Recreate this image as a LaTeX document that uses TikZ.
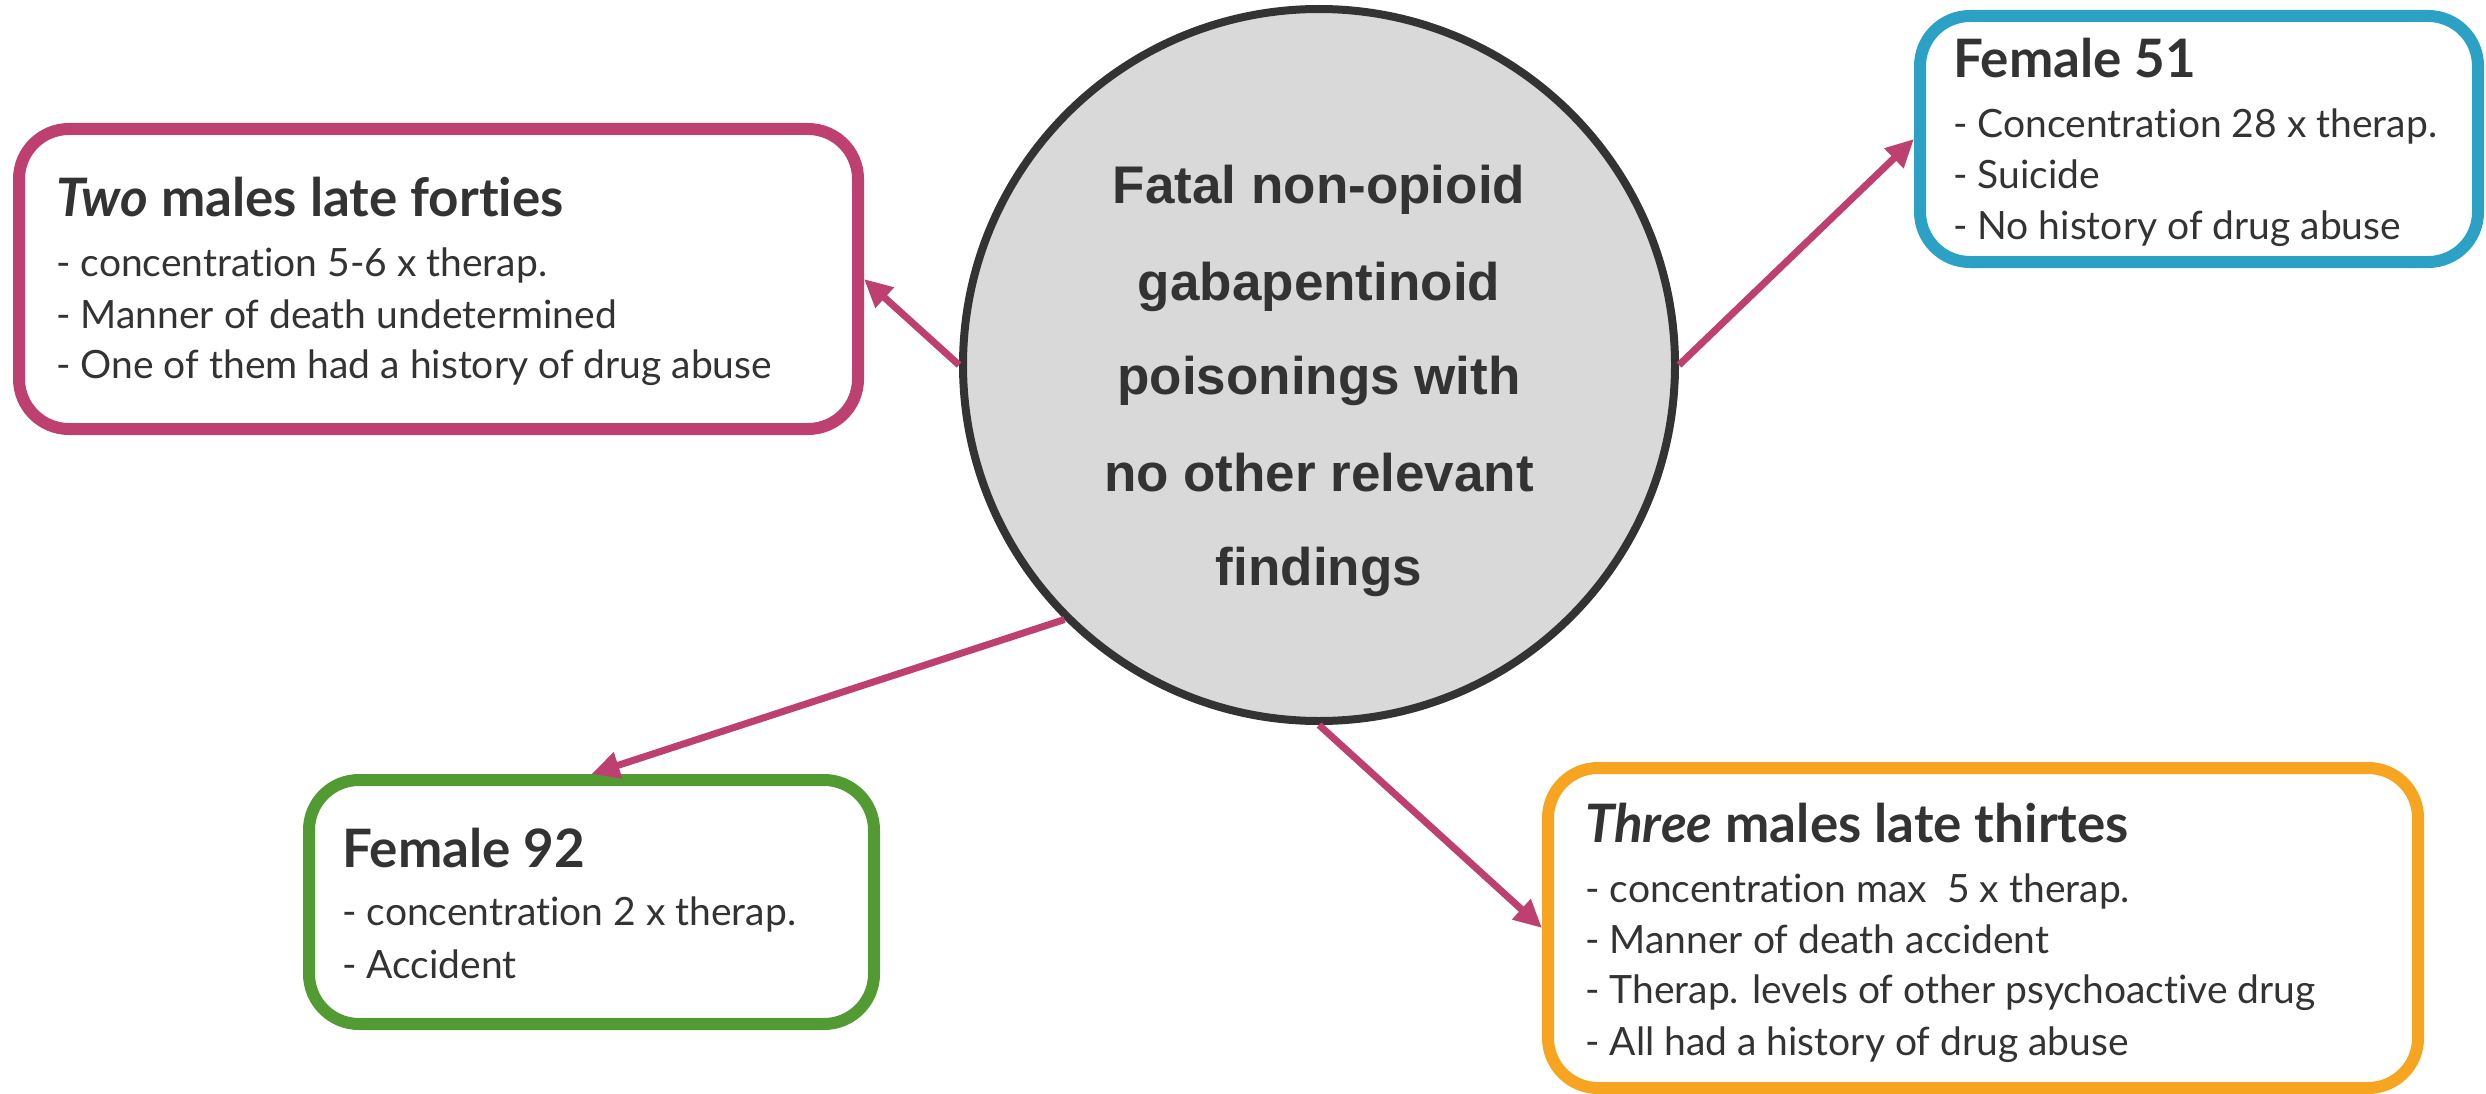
\documentclass[tikz,border=0pt]{standalone}
\usepackage{fontspec}
\usetikzlibrary{arrows.meta}
\newfontfamily\boxfont[RawFeature={-liga;-dlig}]{Lato}
\newfontfamily\circfont{Liberation Sans}
\definecolor{mag}{HTML}{BE4070}
\definecolor{cblue}{HTML}{2BA1C5}
\definecolor{cgreen}{HTML}{529A32}
\definecolor{corange}{HTML}{F7A520}
\definecolor{dtext}{HTML}{333333}
\definecolor{cfill}{HTML}{D9D9D9}
\tikzset{
  casebox/.style={draw=#1, line width=12pt, rounded corners=50pt, fill=white, rectangle, inner sep=0pt},
  ttl/.style={anchor=base west, inner sep=0pt, text=dtext, font=\boxfont\bfseries\fontsize{53}{64}\selectfont},
  bodyline/.style={anchor=base west, inner sep=0pt, text=dtext, font=\boxfont\fontsize{39}{47}\selectfont},
  ctext/.style={anchor=base, inner sep=0pt, text=dtext, font=\circfont\bfseries\fontsize{53}{64}\selectfont},
  conn/.style={draw=mag, line width=7pt, -{Triangle[length=28pt,width=26pt]}},
}
\begin{document}
\begin{tikzpicture}[x=1pt,y=-1pt]
\useasboundingbox (0,0) rectangle (2486,1094);
% central circle
\node[circle, draw=dtext, fill=cfill, line width=8pt, minimum size=712pt, inner sep=0pt] (c) at (1319,365) {};
\node[ctext] (c1) at (1319,204) {Fatal non-opioid};
\node[ctext] (c2) at (1319,300) {gabapentinoid};
\node[ctext] (c3) at (1319,394) {poisonings with};
\node[ctext] (c4) at (1319,491) {no other relevant};
\node[ctext] (c5) at (1319,585) {findings};
% boxes
\node[casebox=mag, minimum width=839pt, minimum height=300pt] (lb) at (438.5,279) {};
\node[casebox=cblue, minimum width=558pt, minimum height=246pt] (bb) at (2199,139) {};
\node[casebox=cgreen, minimum width=565pt, minimum height=244pt] (gb) at (591.5,902) {};
\node[casebox=corange, minimum width=870pt, minimum height=320pt] (ob) at (1983,928) {};
% left box text
\node[ttl] (lt) at (56,217) {\textit{Two} males late forties};
\node[bodyline] (l1) at (56,276) {- concentration 5-6 x therap.};
\node[bodyline] (l2) at (56,328) {- Manner of death undetermined};
\node[bodyline] (l3) at (56,378) {- One of them had a history of drug abuse};
% blue box text
\node[ttl] (bt) at (1953,78) {Female 51};
\node[bodyline] (b1) at (1953,138) {- Concentration 28 x therap.};
\node[bodyline] (b2) at (1953,189) {- Suicide};
\node[bodyline] (b3) at (1953,240) {- No history of drug abuse};
% green box text
\node[ttl] (gt) at (342,867) {Female 92};
\node[bodyline] (g1) at (342,925) {- concentration 2 x therap.};
\node[bodyline] (g2) at (342,978) {- Accident};
% orange box text
\node[ttl] (ot) at (1585,842) {\textit{Three} males late thirtes};
\node[bodyline] (o1) at (1585,902) {- concentration max\ \ 5 x therap.};
\node[bodyline] (o2) at (1585,953) {- Manner of death accident};
\node[bodyline] (o3) at (1585,1003) {- Therap. levels of other psychoactive drug};
\node[bodyline] (o4) at (1585,1055) {- All had a history of drug abuse};
% connectors
\draw[conn] (c.west) -- (lb.east);
\draw[conn] (c.east) -- (bb.west);
\draw[conn] (c.225) -- (gb.north);
\draw[conn] (c.south) -- (ob.west);
\end{tikzpicture}
\end{document}
